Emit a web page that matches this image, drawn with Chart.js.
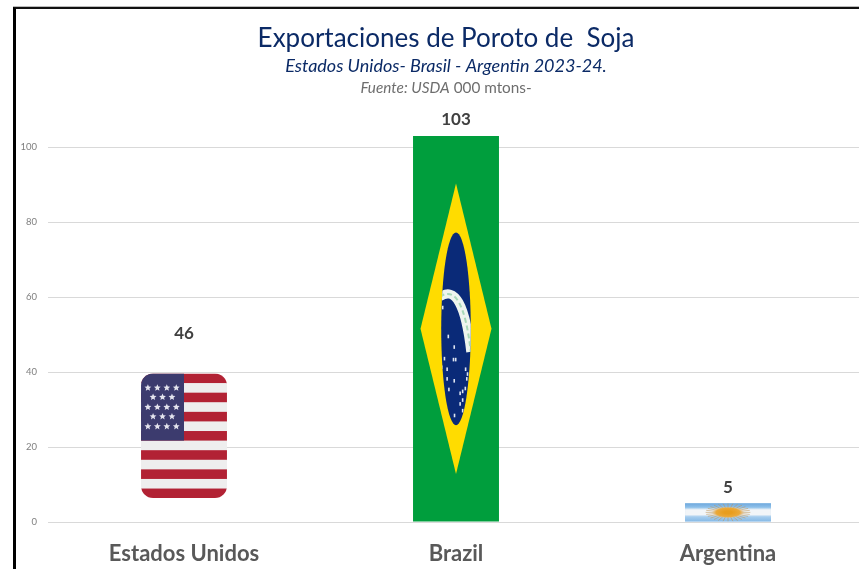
<!DOCTYPE html>
<html>
<head>
<meta charset="utf-8">
<title>Exportaciones de Poroto de Soja</title>
<script src="https://cdn.jsdelivr.net/npm/chart.js@4/dist/chart.umd.min.js"></script>
<style>
  html, body { margin: 0; padding: 0; background: #fff; overflow: hidden; }
  #wrap { position: relative; width: 859px; height: 569px; overflow: hidden; }
  #frame { position: absolute; left: 13px; top: 7px; width: 860px; height: 580px;
    border-left: 3px solid #000; border-top: 2px solid #111; box-shadow: 0 -1px 0 #bbb; }
  #graph { position: absolute; left: 0; top: 0; }
</style>
</head>
<body>
<div id="wrap">
  <canvas id="graph" width="892" height="569"></canvas>
  <div id="frame"></div>
</div>
<script>
// Data
const categories = ['Estados Unidos', 'Brazil', 'Argentina'];
const exportsMt = [46, 103, 5];
const tickLabels = [0, 20, 40, 60, 80, 100];

const titleText = 'Exportaciones de Poroto de  Soja';
const subtitleText = 'Estados Unidos- Brasil - Argentin 2023-24.';
const sourceItalic = 'Fuente: USDA';
const sourcePlain = ' 000 mtons-';

const fontName = 'Lato, "Open Sans", sans-serif';

// Flags are painted inside each bar, everything relative to the bar's box
function drawStar(ctx, cx, cy, r) {
  ctx.beginPath();
  for (let i = 0; i < 10; i++) {
    const rad = i % 2 ? r * 0.45 : r;
    const a = -Math.PI / 2 + (i * Math.PI) / 5;
    ctx.lineTo(cx + rad * Math.cos(a), cy + rad * Math.sin(a));
  }
  ctx.closePath();
  ctx.fill();
}

function drawUsa(ctx, b) {
  const w = b.right - b.left;
  const h = b.base - b.top;
  const top = b.top + h * 0.139;
  const fh = h * 0.725;
  ctx.save();
  ctx.beginPath();
  ctx.roundRect(b.left, top, w, fh, w * 0.14);
  ctx.clip();
  const stripe = fh / 13;
  for (let i = 0; i < 13; i++) {
    ctx.fillStyle = i % 2 ? '#eeeeee' : '#b22234';
    ctx.fillRect(b.left, top + i * stripe, w, stripe + 0.5);
  }
  ctx.fillStyle = '#3c3b6e';
  ctx.fillRect(b.left, top, w * 0.5, stripe * 7);
  ctx.fillStyle = '#e4e4ee';
  const cols = [0.08, 0.19, 0.3, 0.41];
  const mids = [0.14, 0.25, 0.36];
  [0.115, 0.19, 0.27, 0.345, 0.425].forEach((ry, i) => {
    (i % 2 ? mids : cols).forEach((rx) => {
      drawStar(ctx, b.left + w * rx, top + fh * ry, 3.6);
    });
  });
  ctx.restore();
}

function drawBrazil(ctx, b) {
  const w = b.right - b.left;
  const h = b.base - b.top;
  const cx = (b.left + b.right) / 2;
  const cy = (b.top + b.base) / 2;
  ctx.save();
  ctx.fillStyle = '#ffdc00';
  ctx.beginPath();
  ctx.moveTo(cx, cy - h * 0.377);
  ctx.lineTo(cx + w * 0.413, cy);
  ctx.lineTo(cx, cy + h * 0.377);
  ctx.lineTo(cx - w * 0.413, cy);
  ctx.closePath();
  ctx.fill();

  const rx = w * 0.172;
  const ry = h * 0.25;
  ctx.beginPath();
  ctx.ellipse(cx, cy, rx, ry, 0, 0, Math.PI * 2);
  ctx.fillStyle = '#0a2a78';
  ctx.fill();
  ctx.clip();

  // white band across the globe
  ctx.beginPath();
  ctx.moveTo(cx - rx * 1.1, cy - ry * 0.33);
  ctx.quadraticCurveTo(cx + rx * 0.45, cy - ry * 0.5, cx + rx, cy + ry * 0.24);
  ctx.lineWidth = 9;
  ctx.strokeStyle = '#eef4ee';
  ctx.stroke();
  ctx.lineWidth = 2;
  ctx.strokeStyle = '#a8d8b8';
  ctx.setLineDash([5, 3]);
  ctx.stroke();
  ctx.setLineDash([]);

  // small stars under the band
  ctx.fillStyle = '#dfe6f2';
  [[-.9,-.22],[-.52,.08],[-.12,.19],[-.78,.31],[-.17,.32],[-.02,.32],[-.95,.4],[-.6,.42],
   [.65,.42],[.78,.47],[-.6,.52],[-.12,.54],[.73,.52],[-.48,.63],[.63,.62],[.28,.67],
   [.45,.65],[.45,.74],[.28,.78],[.45,.85],[-.1,.9]].forEach((p) => {
    ctx.fillRect(cx + p[0] * rx - 0.8, cy + p[1] * ry - 1.8, 1.6, 3.6);
  });
  ctx.restore();
}

function drawArgentina(ctx, b) {
  const w = b.right - b.left;
  const h = b.base - b.top;
  const cx = (b.left + b.right) / 2;
  const cy = (b.top + b.base) / 2;
  ctx.save();
  ctx.beginPath();
  ctx.rect(b.left, b.top, w, h);
  ctx.clip();
  const band = ctx.createLinearGradient(0, b.top, 0, b.base);
  band.addColorStop(0, '#6fa8dc');
  band.addColorStop(0.22, '#8dc0ea');
  band.addColorStop(0.36, '#f2f5f8');
  band.addColorStop(0.62, '#f2f5f8');
  band.addColorStop(0.74, '#a6cdee');
  band.addColorStop(1, '#86b9e6');
  ctx.fillStyle = band;
  ctx.fillRect(b.left, b.top, w, h);

  // rays first, then the sun on top
  ctx.translate(cx, cy);
  ctx.strokeStyle = 'rgba(190,150,90,0.55)';
  ctx.lineWidth = 1;
  for (let i = 0; i < 28; i++) {
    const a = (i * Math.PI * 2) / 28;
    ctx.beginPath();
    ctx.moveTo(0, 0);
    ctx.lineTo(Math.cos(a) * w * 0.26, Math.sin(a) * h * 0.5);
    ctx.stroke();
  }
  ctx.scale(1, 0.36);
  const glow = ctx.createRadialGradient(0, 0, 4, 0, 0, w * 0.19);
  glow.addColorStop(0, '#e89d1e');
  glow.addColorStop(0.65, '#eba93a');
  glow.addColorStop(1, 'rgba(236,190,120,0)');
  ctx.fillStyle = glow;
  ctx.beginPath();
  ctx.arc(0, 0, w * 0.19, 0, Math.PI * 2);
  ctx.fill();
  ctx.restore();
}

const flagPainters = [drawUsa, drawBrazil, drawArgentina];

const flagPlugin = {
  id: 'flagPlugin',
  beforeDraw(chart) {
    // left padding only recentres the title, tick labels still need that room
    chart.scales.y.left = 0;
  },
  afterDatasetDraw(chart) {
    const ctx = chart.ctx;
    chart.getDatasetMeta(0).data.forEach((bar, i) => {
      const half = bar.width / 2;
      flagPainters[i](ctx, {
        left: bar.x - half,
        right: bar.x + half,
        top: bar.y,
        base: bar.base,
      });
    });
  },
};

const valueLabels = {
  id: 'valueLabels',
  afterDatasetsDraw(chart) {
    const ctx = chart.ctx;
    ctx.save();
    ctx.font = 'bold 17px ' + fontName;
    ctx.fillStyle = '#404040';
    ctx.textAlign = 'center';
    ctx.textBaseline = 'middle';
    chart.getDatasetMeta(0).data.forEach((bar, i) => {
      ctx.fillText(exportsMt[i], bar.x, bar.y - 16);
    });
    ctx.restore();
  },
};

// Third heading line: half italic, half plain, which the title plugin can't do
const sourceLine = {
  id: 'sourceLine',
  afterDraw(chart) {
    const ctx = chart.ctx;
    const cx = chart.width / 2;
    const y = 88;
    const size = '15.3px ';
    ctx.save();
    ctx.fillStyle = '#6e6e6e';
    ctx.textBaseline = 'middle';
    ctx.textAlign = 'left';
    ctx.font = 'italic ' + size + fontName;
    const w1 = ctx.measureText(sourceItalic).width;
    ctx.font = size + fontName;
    const w2 = ctx.measureText(sourcePlain).width;
    const x = cx - (w1 + w2) / 2;
    ctx.font = 'italic ' + size + fontName;
    ctx.fillText(sourceItalic, x, y);
    ctx.font = size + fontName;
    ctx.fillText(sourcePlain, x + w1, y);
    ctx.restore();
  },
};

const ctx = document.getElementById('graph').getContext('2d');
const chart = new Chart(ctx, {
  type: 'bar',
  data: {
    labels: categories,
    datasets: [
      {
        data: exportsMt,
        backgroundColor: ['rgba(0,0,0,0)', '#009e3d', '#8dc0ea'],
        categoryPercentage: 1,
        barPercentage: 0.316,
      },
    ],
  },
  plugins: [flagPlugin, valueLabels, sourceLine],
  options: {
    responsive: false,
    animation: false,
    // canvas runs past the window on the right, as the plot does in the reference
    layout: { padding: { top: 0, right: 28, bottom: 0, left: 28 } },
    plugins: {
      legend: { display: false },
      tooltip: { enabled: false },
      title: {
        display: true,
        text: titleText,
        color: '#0b2a66',
        font: { family: fontName, size: 26, weight: 'normal' },
        padding: { top: 23, bottom: 1 },
      },
      subtitle: {
        display: true,
        text: subtitleText,
        color: '#0b2a66',
        font: { family: fontName, size: 18, style: 'italic', weight: 'normal' },
        padding: { top: 0, bottom: 59.2 },
      },
    },
    scales: {
      x: {
        grid: { display: false, drawTicks: false },
        border: { display: false },
        ticks: {
          color: '#595959',
          padding: 19,
          font: { family: fontName, size: 22, weight: 'bold' },
        },
        afterFit(scale) {
          scale.height = 47;
        },
      },
      y: {
        min: 0,
        max: 103,
        afterBuildTicks(scale) {
          scale.ticks = tickLabels.map((value) => ({ value }));
        },
        grid: { color: '#d9d9d9', drawTicks: false, lineWidth: 1 },
        border: { display: false },
        ticks: {
          color: '#7f7f7f',
          padding: 11,
          font: { family: fontName, size: 9.5 },
        },
        afterFit(scale) {
          scale.width = 20;
        },
      },
    },
  },
});
</script>
</body>
</html>
